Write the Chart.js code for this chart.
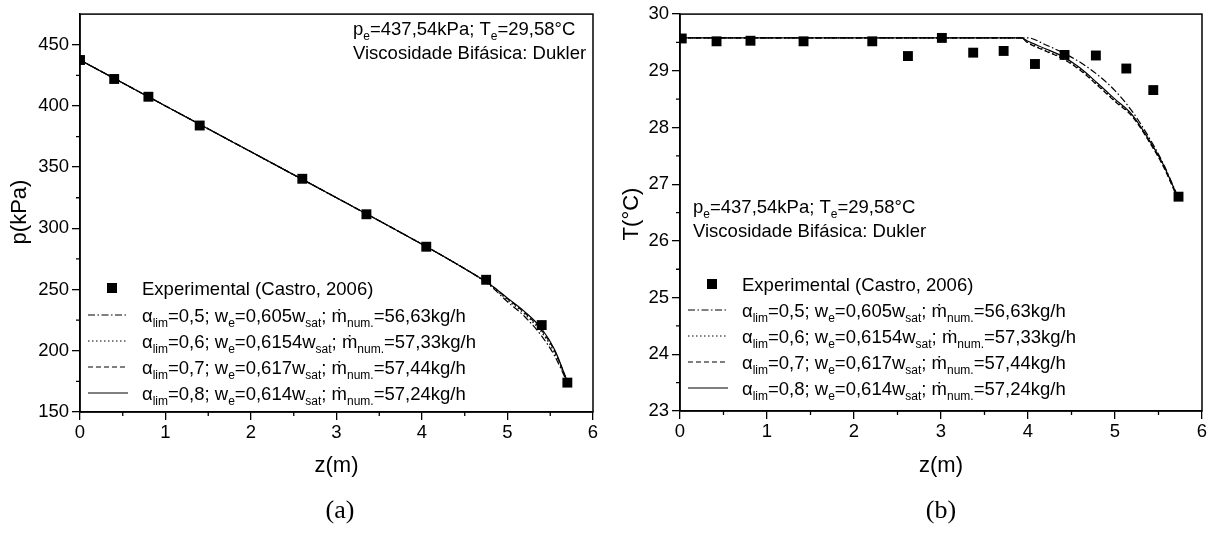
<!DOCTYPE html>
<html lang="pt">
<head>
<meta charset="UTF-8">
<title>Pressão e temperatura ao longo do tubo</title>
<style>
  html, body { margin: 0; padding: 0; background: #fff; }
  #wrap { position: relative; width: 1214px; height: 534px; }
  .panel { position: absolute; top: 0; width: 607px; height: 534px; }
  #pa { left: 0; }
  #pb { left: 607px; }
  .cap { position: absolute; top: 495px; width: 100px; text-align: center;
         font-family: "Liberation Serif", "Times New Roman", serif; font-size: 26px; color: #000; }
</style>
</head>
<body>
<div id="wrap">
  <div class="panel" id="pa"><canvas id="chartA" width="607" height="534"></canvas></div>
  <div class="panel" id="pb"><canvas id="chartB" width="607" height="534"></canvas></div>
  <div class="cap" style="left:290px">(a)</div>
  <div class="cap" style="left:891px">(b)</div>
</div>

<script src="https://cdn.jsdelivr.net/npm/chart.js"></script>
<script>
"use strict"

// ---- data ----
// (a) pressure
const zExpA = [0, 0.4, 0.8, 1.4, 2.6, 3.35, 4.05, 4.75, 5.4, 5.7]
const pExp  = [437.5, 422, 407.5, 384, 340.5, 311.5, 285, 258, 221, 174]

const zModA   = [0, 1, 2, 3, 4, 4.5, 4.8, 5.0, 5.2, 5.4, 5.55, 5.7]
const pLim05  = [437.5, 400, 362.5, 325, 287, 267, 253, 240, 228, 212, 196, 174]
const pLim06  = [437.5, 400, 362.5, 325, 287, 267, 253.5, 241.5, 230, 215, 198.5, 174.5]
const pLim07  = [437.5, 400, 362.5, 325, 287, 267, 254, 242.5, 231, 216.5, 200, 175]
const pLim08  = [437.5, 400, 362.5, 325, 287, 267, 254, 243, 232, 218, 201, 175]

// (b) temperature
const zExpB = [0.02, 0.42, 0.81, 1.42, 2.21, 2.62, 3.01, 3.37, 3.72, 4.08, 4.42, 4.78, 5.13, 5.44, 5.73]
const TExp  = [29.57, 29.52, 29.53, 29.52, 29.52, 29.26, 29.58, 29.32, 29.35, 29.12, 29.28, 29.27, 29.04, 28.66, 26.78]

const zModB  = [0, 3.92, 4.0, 4.2, 4.4, 4.6, 4.8, 5.0, 5.2, 5.4, 5.55, 5.7]
const TLim05 = [29.58, 29.58, 29.58, 29.46, 29.32, 29.15, 28.93, 28.65, 28.28, 27.80, 27.38, 26.86]
const TLim06 = [29.58, 29.58, 29.50, 29.36, 29.22, 29.02, 28.75, 28.47, 28.20, 27.74, 27.34, 26.84]
const TLim07 = [29.58, 29.58, 29.49, 29.35, 29.21, 29.01, 28.74, 28.46, 28.19, 27.73, 27.33, 26.82]
const TLim08 = [29.58, 29.58, 29.52, 29.39, 29.25, 29.05, 28.78, 28.50, 28.22, 27.76, 27.36, 26.85]

// legend texts
const alphaLim = ['0,5', '0,6', '0,7', '0,8']
const weFrac   = ['0,605', '0,6154', '0,617', '0,614']
const mNum     = ['56,63', '57,33', '57,44', '57,24']
const dashes   = [[7, 2.5, 1.5, 2.5], [1.5, 2.5], [5, 3], []]

// ticks
const xMinor = [0.5, 1.5, 2.5, 3.5, 4.5, 5.5]
const yMinorA = [175, 225, 275, 325, 375, 425]
const yMinorB = [23.5, 24.5, 25.5, 26.5, 27.5, 28.5, 29.5]

const FONT = '"Liberation Sans", Arial, sans-serif'

function pts(xs, ys) {
    return xs.map((x, i) => ({ x: x, y: ys[i] }))
}

// draws text with subscripts; parts = [[text, isSub], ...]
function richText(ctx, parts, x, y) {
    for (const [str, sub] of parts) {
        ctx.font = (sub ? '12px ' : '18.5px ') + FONT
        ctx.fillText(str, x, sub ? y + 5 : y)
        x += ctx.measureText(str).width
    }
}

function rowParts(i) {
    return [['\u03b1', 0], ['lim', 1], ['=' + alphaLim[i] + '; w', 0], ['e', 1],
            ['=' + weFrac[i] + 'w', 0], ['sat', 1], ['; \u1e41', 0], ['num.', 1],
            ['=' + mNum[i] + 'kg/h', 0]]
}

const headParts = [['p', 0], ['e', 1], ['=437,54kPa; T', 0], ['e', 1], ['=29,58\u00b0C', 0]]

const decor = {
    id: 'decor',
    afterDraw(chart) {
        const o = chart.options.plugins.decor
        const ctx = chart.ctx
        const a = chart.chartArea
        const xs = chart.scales.x, ys = chart.scales.y
        ctx.save()
        ctx.strokeStyle = '#000'
        ctx.fillStyle = '#000'
        // frame
        ctx.lineWidth = 1.5
        ctx.strokeRect(a.left, a.top, a.right - a.left, a.bottom - a.top)
        // minor ticks
        ctx.lineWidth = 1.3
        ctx.beginPath()
        for (const v of xMinor) {
            const px = xs.getPixelForValue(v)
            ctx.moveTo(px, a.bottom); ctx.lineTo(px, a.bottom + 4)
        }
        for (const v of o.yMinor) {
            const py = ys.getPixelForValue(v)
            ctx.moveTo(a.left, py); ctx.lineTo(a.left - 4, py)
        }
        ctx.stroke()

        // axis titles
        ctx.font = '22px ' + FONT
        ctx.textAlign = 'center'
        ctx.textBaseline = 'middle'
        ctx.fillText('z(m)', (a.left + a.right) / 2, 466)
        ctx.save()
        ctx.translate(o.yTitleX, o.yTitleY)
        ctx.rotate(-Math.PI / 2)
        ctx.fillText(o.yTitle, 0, 0)
        ctx.restore()

        // annotation
        ctx.textAlign = 'left'
        ctx.textBaseline = 'alphabetic'
        richText(ctx, headParts, o.noteX, o.noteY)
        richText(ctx, [['Viscosidade Bif\u00e1sica: Dukler', 0]], o.noteX, o.noteY + 24)

        // legend
        const L = a.left
        const rows = o.legRows
        ctx.fillRect(L + 32 - 5, rows[0] - 5, 10, 10)
        richText(ctx, [['Experimental (Castro, 2006)', 0]], L + 62, rows[0] + 6.5)
        ctx.lineWidth = 1.2
        for (let i = 0; i < 4; i++) {
            const y = rows[i + 1]
            ctx.setLineDash(dashes[i])
            ctx.beginPath()
            ctx.moveTo(L + 8, y); ctx.lineTo(L + 48, y)
            ctx.stroke()
            ctx.setLineDash([])
            richText(ctx, rowParts(i), L + 62, y + 6.5)
        }
        ctx.restore()
    }
}

function modelSet(xs, ys, i) {
    return {
        data: pts(xs, ys),
        showLine: true,
        borderColor: '#000',
        borderWidth: 1.2,
        borderDash: dashes[i],
        pointRadius: 0,
        cubicInterpolationMode: 'monotone',
        order: 2
    }
}

function makeChart(id, cfg) {
    return new Chart(document.getElementById(id), {
        type: 'scatter',
        data: {
            datasets: [
                {
                    data: pts(cfg.zExp, cfg.yExp),
                    pointStyle: 'rect',
                    pointRadius: 7,
                    backgroundColor: '#000',
                    borderWidth: 0,
                    order: 1
                },
                modelSet(cfg.zMod, cfg.mods[0], 0),
                modelSet(cfg.zMod, cfg.mods[1], 1),
                modelSet(cfg.zMod, cfg.mods[2], 2),
                modelSet(cfg.zMod, cfg.mods[3], 3)
            ]
        },
        options: {
            responsive: false,
            animation: false,
            layout: { padding: { left: 0, top: cfg.top, right: cfg.right, bottom: 534 - cfg.bottom - 40 } },
            scales: {
                x: {
                    type: 'linear', min: 0, max: 6,
                    ticks: { stepSize: 1, color: '#000', font: { family: FONT, size: 18.5 }, padding: 2, maxRotation: 0 },
                    grid: { drawOnChartArea: false, drawTicks: true, tickLength: 8, color: '#000', lineWidth: 1.3 },
                    border: { display: true, color: '#000', width: 1.5 },
                    afterFit: s => { s.height = 40 }
                },
                y: {
                    type: 'linear', min: cfg.ymin, max: cfg.ymax,
                    afterBuildTicks: s => { s.ticks = s.ticks.filter(t => Math.abs(t.value / cfg.ystep - Math.round(t.value / cfg.ystep)) < 1e-6) },
                    ticks: { stepSize: cfg.ystep, color: '#000', font: { family: FONT, size: 18.5 }, padding: 3 },
                    grid: { drawOnChartArea: false, drawTicks: true, tickLength: 8, color: '#000', lineWidth: 1.3 },
                    border: { display: true, color: '#000', width: 1.5 },
                    afterFit: s => { s.width = cfg.left }
                }
            },
            plugins: {
                legend: { display: false },
                tooltip: { enabled: false },
                decor: cfg.decor
            }
        },
        plugins: [decor]
    })
}

makeChart('chartA', {
    zExp: zExpA, yExp: pExp, zMod: zModA, mods: [pLim05, pLim06, pLim07, pLim08],
    ymin: 150, ymax: 475, ystep: 50,
    left: 80, top: 11, right: 14, bottom: 412,
    decor: {
        yMinor: yMinorA, yTitle: 'p(kPa)', yTitleX: 20, yTitleY: 212,
        noteX: 353, noteY: 35,
        legRows: [288, 315, 341, 367, 393]
    }
})

makeChart('chartB', {
    zExp: zExpB, yExp: TExp, zMod: zModB, mods: [TLim05, TLim06, TLim07, TLim08],
    ymin: 23, ymax: 30, ystep: 1,
    left: 73, top: 7, right: 12, bottom: 411,
    decor: {
        yMinor: yMinorB, yTitle: 'T(\u00b0C)', yTitleX: 25, yTitleY: 214,
        noteX: 86, noteY: 213,
        legRows: [284, 310, 336, 362, 388]
    }
})
</script>
</body>
</html>
